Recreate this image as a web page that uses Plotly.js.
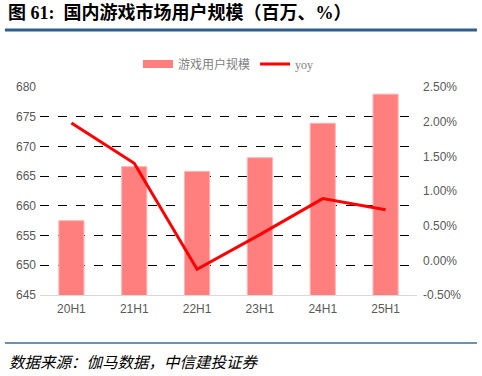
<!DOCTYPE html>
<html>
<head>
<meta charset="utf-8">
<script src="https://cdn.plot.ly/plotly-3.0.1.min.js"></script>
<style>html,body{margin:0;padding:0;background:#fff;}#chart{width:482px;height:376px;}</style>
</head>
<body>
<div id="chart"></div>
<script>
const categories = ["20H1", "21H1", "22H1", "23H1", "24H1", "25H1"];
const users = [657.5, 666.6, 665.8, 668.1, 673.9, 678.8];
const yoy = [1.98, 1.40, -0.13, 0.37, 0.89, 0.73];
const leftTicks = [645, 650, 655, 660, 665, 670, 675, 680];
const rightTicks = [-0.5, 0, 0.5, 1.0, 1.5, 2.0, 2.5];

const tickFont = {family: "Liberation Sans, Arial, sans-serif", size: 12, color: "#595959"};

const data = [
  {
    type: "bar", name: "游戏用户规模", x: categories, y: users,
    marker: {color: "#FF7F7F", line: {color: "#FFB3B3", width: 1}},
    width: 0.4, yaxis: "y", showlegend: false
  },
  {
    type: "scatter", mode: "lines", name: "游戏用户规模", x: [null], y: [null],
    line: {color: "#FF7F7F", width: 8}, yaxis: "y", showlegend: true
  },
  {
    type: "scatter", mode: "lines", name: "yoy", x: categories, y: yoy,
    line: {color: "#FF0000", width: 3}, yaxis: "y2"
  }
];

const layout = {
  width: 482, height: 376,
  margin: {l: 40, r: 65, t: 87, b: 81},
  paper_bgcolor: "#fff", plot_bgcolor: "#fff",
  showlegend: true,
  legend: {orientation: "h", x: 0.5, xanchor: "center", y: 1.11, yanchor: "middle",
           font: {family: "Liberation Serif, Noto Sans CJK SC, serif", size: 12, color: "#7f7f7f"},
           itemwidth: 30, tracegroupgap: 0},
  xaxis: {
    type: "category", tickfont: tickFont, showline: true, linecolor: "#d9d9d9", linewidth: 1,
    ticks: "", showgrid: false, zeroline: false, ticklabelstandoff: 3
  },
  yaxis: {
    range: [645, 680], tickvals: leftTicks, ticktext: leftTicks.map(String),
    tickfont: tickFont, showgrid: true, gridcolor: "#000", griddash: "dash", gridwidth: 1,
    zeroline: false, showline: false, ticks: "", ticklabelstandoff: 3
  },
  yaxis2: {
    overlaying: "y", side: "right", range: [-0.5, 2.5], tickvals: rightTicks,
    ticktext: rightTicks.map(v => v.toFixed(2) + "%"),
    tickfont: tickFont, showgrid: false, zeroline: false, showline: false, ticks: "",
    ticklabelstandoff: 5
  },
  shapes: [
    {type: "line", xref: "paper", yref: "paper", x0: -0.093, x1: 1.159, y0: 1.274, y1: 1.274,
     line: {color: "#2F5F8A", width: 3}},
    {type: "line", xref: "paper", yref: "paper", x0: -0.093, x1: 1.159, y0: -0.231, y1: -0.231,
     line: {color: "#3E6E91", width: 1.5}}
  ],
  annotations: [
    {xref: "paper", yref: "paper", x: -0.09, y: 1.36, xanchor: "left", yanchor: "middle",
     text: "<b>图 61:  国内游戏市场用户规模（百万、%）</b>", showarrow: false,
     font: {family: "Liberation Serif, Noto Sans CJK SC, serif", size: 18, color: "#000"}},
    {xref: "paper", yref: "paper", x: -0.087, y: -0.315, xanchor: "left", yanchor: "middle",
     text: "<i>数据来源：伽马数据，中信建投证券</i>", showarrow: false,
     font: {family: "Noto Sans CJK SC, sans-serif", size: 15.5, color: "#000"}}
  ]
};

Plotly.newPlot("chart", data, layout, {displayModeBar: false, staticPlot: true});
</script>
</body>
</html>
